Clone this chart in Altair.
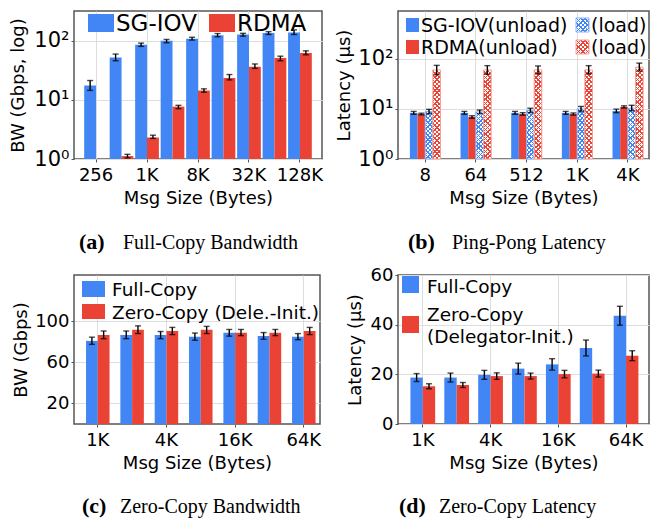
import altair as alt
import pandas as pd

BLUE = "#4285F4"
RED = "#EA4335"

# ---------------- (a) Full-Copy Bandwidth ----------------
a_sizes = ["256", "512", "1K", "4K", "8K", "16K", "32K", "64K", "128K"]
a_ticks = ["256", "1K", "8K", "32K", "128K"]
a_sg = [17.5, 52.5, 85.7, 100, 109, 124, 128, 136, 138]
a_sg_lo = [14.5, 46, 80.6, 92.7, 103, 117, 120, 128, 128]
a_sg_hi = [21.3, 59.7, 91.6, 105.6, 115, 133, 134, 143, 153]
a_rdma = [None, 1.12, 2.31, 7.7, 14.4, 23.6, 36.5, 51, 62]
a_rdma_lo = [None, 1.04, 2.23, 7.1, 13.5, 21.8, 34.2, 46, 58]
a_rdma_hi = [None, 1.2, 2.53, 8.1, 15.4, 26.9, 40.6, 55, 67.8]

# ---------------- (b) Ping-Pong Latency ----------------
b_sizes = ["8", "64", "512", "1K", "4K"]
b_sg_unload = [8.3, 8.3, 8.3, 8.3, 9.1]
b_sg_unload_lo = [7.8, 7.8, 7.8, 7.8, 8.4]
b_sg_unload_hi = [8.9, 8.9, 8.9, 8.9, 9.9]
b_rdma_unload = [7.9, 6.9, 7.9, 7.9, 10.9]
b_rdma_unload_lo = [7.6, 6.5, 7.5, 7.5, 10.4]
b_rdma_unload_hi = [8.2, 7.3, 8.4, 8.3, 11.5]
b_sg_load = [8.9, 8.7, 9.3, 10.0, 10.3]
b_sg_load_lo = [8.0, 8.0, 8.4, 9.0, 9.2]
b_sg_load_hi = [9.8, 9.5, 10.3, 11.2, 11.8]
b_rdma_load = [60, 60, 60, 60, 68]
b_rdma_load_lo = [48, 49, 50, 50, 57]
b_rdma_load_hi = [74, 73, 72, 73, 82]

# ---------------- (c) Zero-Copy Bandwidth ----------------
c_sizes = ["1K", "2K", "4K", "8K", "16K", "32K", "64K"]
c_ticks = ["1K", "4K", "16K", "64K"]
c_full = [80.9, 86.6, 86.6, 85.0, 88.8, 85.7, 85.0]
c_full_lo = [77.5, 83, 83, 81.5, 85.5, 82.5, 82]
c_full_hi = [84.5, 90.5, 90, 88.5, 92, 89, 88]
c_zero = [86.6, 91.7, 90.4, 91.7, 88.8, 88.8, 90.4]
c_zero_lo = [83, 88, 87, 88, 86, 86, 87]
c_zero_hi = [90.5, 95.5, 94, 95, 92, 92, 94]

# ---------------- (d) Zero-Copy Latency ----------------
d_sizes = ["1K", "2K", "4K", "8K", "16K", "32K", "64K"]
d_ticks = ["1K", "4K", "16K", "64K"]
d_full = [18.7, 18.7, 19.8, 22.3, 24.0, 30.6, 43.6]
d_full_err = [1.6, 1.8, 1.8, 2.2, 2.3, 3.2, 3.8]
d_zero = [15.2, 15.7, 19.3, 19.3, 20.1, 20.3, 27.5]
d_zero_err = [1.0, 1.0, 1.3, 1.2, 1.5, 1.4, 2.0]

FONT = "DejaVu Sans"
SERIF = "Liberation Serif"
ONE = alt.Data(values=[{"k": 0}])


def long_df(sizes, series):
    rows = []
    for name, vals, lo, hi in series:
        for s, v, l, h in zip(sizes, vals, lo, hi):
            if v is None:
                continue
            rows.append({"size": s, "series": name, "value": v, "lo": l, "hi": h})
    return pd.DataFrame(rows)


def hatch(color, w, h, period=4.4, lw=1.5, bg="#ffffff", flip=False):
    r = h / w
    a = (1 + r) / (1 + r * r)
    n = (w + h) / period
    f = lw / period
    stops = []
    k = 0
    while k <= n + 1:
        o0 = min(k / n, 1.0)
        o1 = min((k + f) / n, 1.0)
        o2 = min((k + 1) / n, 1.0)
        stops += [
            {"offset": o0, "color": color},
            {"offset": o1, "color": color},
            {"offset": o1, "color": bg},
            {"offset": o2, "color": bg},
        ]
        k += 1
    if flip:
        return {"gradient": "linear", "x1": 0, "y1": 1, "x2": a, "y2": 1 - a * r, "stops": stops}
    return {"gradient": "linear", "x1": 0, "y1": 0, "x2": a, "y2": a * r, "stops": stops}


def swatch(x0, x1, y0, y1, fill, stroke=None):
    kw = {"fill": fill}
    if stroke:
        kw.update(stroke=stroke, strokeWidth=1)
    return alt.Chart(ONE).mark_rect(**kw).encode(
        x=alt.value(x0), x2=alt.value(x1), y=alt.value(y0), y2=alt.value(y1))


def label(x, y, text, size, font=FONT, weight="normal"):
    return alt.Chart(ONE).mark_text(
        text=text, align="left", baseline="alphabetic", fontSize=size,
        font=font, fontWeight=weight, color="black").encode(
        x=alt.value(x), y=alt.value(y))


def caption(x, y, tag, text, gap):
    return [label(x, y, tag, 22, SERIF, "bold"), label(x + gap, y, text, 20, SERIF)]


def xenc(sizes, ticks, pi, po, align, title_pad=5):
    return alt.X("size:N", scale=alt.Scale(type="band", domain=sizes, paddingInner=pi, paddingOuter=po, align=align),
                 axis=alt.Axis(values=ticks, title="Msg Size (Bytes)", labelAngle=0, grid=True,
                               bandPosition=0.5, labelPadding=4, titlePadding=title_pad))


def xoff(order):
    return alt.XOffset("series:N", scale=alt.Scale(type="band", domain=order, paddingInner=0, paddingOuter=0))


def errbars(base):
    rule = base.mark_rule(color="black", strokeWidth=1.4).encode(y=alt.Y("lo:Q"), y2=alt.Y2("hi:Q"))
    t1 = base.mark_tick(color="black", thickness=1.4, size=6).encode(y=alt.Y("lo:Q"))
    t2 = base.mark_tick(color="black", thickness=1.4, size=6).encode(y=alt.Y("hi:Q"))
    return [rule, t1, t2]


LOGLAB = "datum.value==1?'10⁰':datum.value==10?'10¹':'10²'"

# ---- panel a ----
a_order = ["SG-IOV", "RDMA"]
dfa = long_df(a_sizes, [("SG-IOV", a_sg, a_sg_lo, a_sg_hi), ("RDMA", a_rdma, a_rdma_lo, a_rdma_hi)])
ya = alt.Y("value:Q", scale=alt.Scale(type="log", domain=[1, 320], nice=False),
           axis=alt.Axis(values=[1, 10, 100], labelExpr=LOGLAB, title="BW (Gbps, log)",
                         labelFontSize=21, grid=True, titlePadding=6))
base_a = alt.Chart(dfa).encode(x=xenc(a_sizes, a_ticks, 0.07, 0.4, 0.5), xOffset=xoff(a_order))
bars_a = base_a.mark_bar().encode(
    y=ya, y2=alt.Y2(datum=1),
    color=alt.Color("series:N", scale=alt.Scale(domain=a_order, range=[BLUE, RED]), legend=None))
err_a = errbars(base_a)
leg_a = [swatch(14, 40, 3, 21, BLUE), label(42, 20, "SG-IOV", 23),
         swatch(135, 161, 3, 21, RED), label(163, 20, "RDMA", 23)]
pa = alt.layer(bars_a, *err_a, *leg_a, *caption(5, 238, "(a)", "Full-Copy Bandwidth", 44)).properties(
    width=248, height=148)

# ---- panel b ----
b_order = ["SG-IOV(unload)", "RDMA(unload)", "SG-IOV(load)", "RDMA(load)"]
dfb = long_df(b_sizes, [
    ("SG-IOV(unload)", b_sg_unload, b_sg_unload_lo, b_sg_unload_hi),
    ("RDMA(unload)", b_rdma_unload, b_rdma_unload_lo, b_rdma_unload_hi),
    ("SG-IOV(load)", b_sg_load, b_sg_load_lo, b_sg_load_hi),
    ("RDMA(load)", b_rdma_load, b_rdma_load_lo, b_rdma_load_hi),
])
yb = alt.Y("value:Q", scale=alt.Scale(type="log", domain=[1, 900], nice=False),
           axis=alt.Axis(values=[1, 10, 100], labelExpr=LOGLAB, title="Latency (μs)",
                         labelFontSize=21, grid=True, titlePadding=4))
xb = alt.X("size:N", scale=alt.Scale(type="band", domain=b_sizes, paddingInner=0.395, paddingOuter=0.175, align=0.67),
           axis=alt.Axis(title="Msg Size (Bytes)", labelAngle=0, grid=True, bandPosition=0.5,
                         labelPadding=4, titlePadding=5))
base_b = alt.Chart(dfb).encode(x=xb, xOffset=xoff(b_order))
solid_b = base_b.transform_filter(alt.FieldOneOfPredicate(field="series", oneOf=b_order[:2])).mark_bar().encode(
    y=yb, y2=alt.Y2(datum=1),
    color=alt.Color("series:N", scale=alt.Scale(domain=b_order[:2], range=[BLUE, RED]), legend=None))
BW_, BH_, RH_ = 7.66, 49.0, 90.0
TR = "rgba(255,255,255,0)"
hatch_layers = []
for ser, col, hh, edge in [("SG-IOV(load)", BLUE, BH_, "#8fb4f8"), ("RDMA(load)", RED, RH_, "#f3a29a")]:
    sub = base_b.transform_filter(alt.datum.series == ser)
    hatch_layers.append(sub.mark_bar(fill=hatch(col, BW_, hh)).encode(y=yb, y2=alt.Y2(datum=1)))
    hatch_layers.append(sub.mark_bar(fill=hatch(col, BW_, hh, bg=TR, flip=True), stroke=edge,
                                     strokeWidth=1).encode(y=yb, y2=alt.Y2(datum=1)))
err_b = errbars(base_b)
leg_b = [swatch(8, 21, 7, 21, BLUE), label(23, 21, "SG-IOV(unload)", 19),
         swatch(8, 21, 29, 43, RED), label(23, 43, "RDMA(unload)", 19),
         swatch(178, 191, 7, 21, hatch(BLUE, 13, 14)),
         swatch(178, 191, 7, 21, hatch(BLUE, 13, 14, bg=TR, flip=True), stroke="#8fb4f8"),
         label(193, 21, "(load)", 19),
         swatch(178, 191, 29, 43, hatch(RED, 13, 14)),
         swatch(178, 191, 29, 43, hatch(RED, 13, 14, bg=TR, flip=True), stroke="#f3a29a"),
         label(193, 43, "(load)", 19)]
pb = alt.layer(solid_b, *hatch_layers, *err_b, *leg_b, *caption(10, 238, "(b)", "Ping-Pong Latency", 44)).properties(
    width=251, height=148)

# ---- panel c ----
c_order = ["Full-Copy", "Zero-Copy"]
dfc = long_df(c_sizes, [("Full-Copy", c_full, c_full_lo, c_full_hi), ("Zero-Copy", c_zero, c_zero_lo, c_zero_hi)])
yc = alt.Y("value:Q", scale=alt.Scale(domain=[0, 145], nice=False),
           axis=alt.Axis(values=[20, 40, 60, 80, 100], title="BW (Gbps)", grid=True,
                         titlePadding=4))
base_c = alt.Chart(dfc).encode(x=xenc(c_sizes, c_ticks, 0.316, 0.24, 0.73), xOffset=xoff(c_order))
bars_c = base_c.mark_bar().encode(
    y=yc, color=alt.Color("series:N", scale=alt.Scale(domain=c_order, range=[BLUE, RED]), legend=None))
err_c = errbars(base_c)
leg_c = [swatch(8, 31, 6, 22, BLUE), label(38, 21, "Full-Copy", 18.5),
         swatch(8, 31, 29, 44, RED), label(38, 44, "Zero-Copy (Dele.-Init.)", 18.5)]
pc = alt.layer(bars_c, *err_c, *leg_c, *caption(8, 238, "(c)", "Zero-Copy Bandwidth", 38)).properties(
    width=246, height=149)

# ---- panel d ----
d_order = ["Full-Copy", "Zero-Copy"]
dfd = long_df(d_sizes, [
    ("Full-Copy", d_full, [v - e for v, e in zip(d_full, d_full_err)], [v + e for v, e in zip(d_full, d_full_err)]),
    ("Zero-Copy", d_zero, [v - e for v, e in zip(d_zero, d_zero_err)], [v + e for v, e in zip(d_zero, d_zero_err)]),
])
yd = alt.Y("value:Q", scale=alt.Scale(domain=[0, 60], nice=False),
           axis=alt.Axis(values=[0, 20, 40, 60], title="Latency (μs)", grid=True,
                         titlePadding=6))
base_d = alt.Chart(dfd).encode(x=xenc(d_sizes, d_ticks, 0.27, 0.34, 0.54), xOffset=xoff(d_order))
bars_d = base_d.mark_bar().encode(
    y=yd, color=alt.Color("series:N", scale=alt.Scale(domain=d_order, range=[BLUE, RED]), legend=None))
err_d = errbars(base_d)
leg_d = [swatch(4, 21, 1, 18, BLUE), label(29, 18, "Full-Copy", 18.5),
         swatch(4, 21, 41, 58, RED), label(29, 46, "Zero-Copy", 18.5), label(29, 68, "(Delegator-Init.)", 18.5)]
pd_ = alt.layer(bars_d, *err_d, *leg_d, *caption(1, 238, "(d)", "Zero-Copy Latency", 40)).properties(
    width=251, height=149)

chart = alt.concat(pa, pb, pc, pd_, columns=2, spacing={"row": 116, "column": 76}, bounds="flush").resolve_scale(
    color="independent", xOffset="independent").properties(
    padding={"left": 1, "top": 2, "right": 2, "bottom": 2}, background="white").configure_view(
    stroke="#555", strokeWidth=1.5).configure_axis(
    domain=False, tickColor="#555", tickSize=3, gridColor="#dedede", gridWidth=1,
    labelFont=FONT, labelFontSize=18, labelColor="black", titleFont=FONT, titleFontSize=18,
    titleFontWeight="normal", titleColor="black")

chart.save("out.html", embed_options={"renderer": "svg", "actions": False})
